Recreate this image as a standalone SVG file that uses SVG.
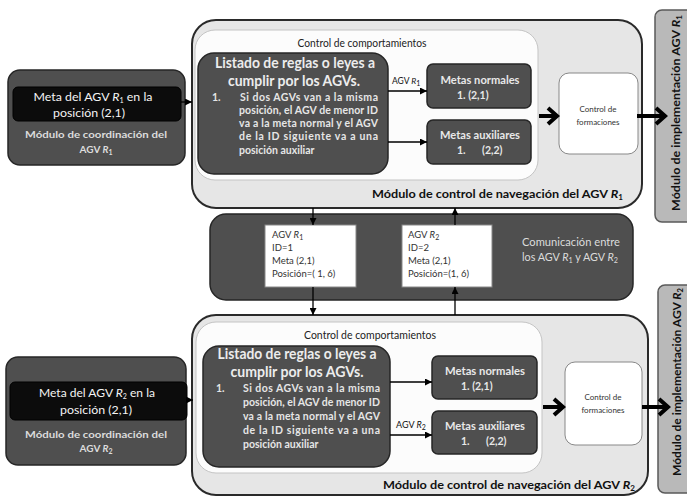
<svg xmlns="http://www.w3.org/2000/svg" width="687" height="498" viewBox="0 0 687 498">
<defs>
<style>
text{font-family:Lato,"Open Sans","Liberation Sans",sans-serif}
.outer{fill:#e6e6e6;stroke:#2a2a2a;stroke-width:2}
.inner{fill:#fcfcfc;stroke:#c4c4c4;stroke-width:1}
.dark{fill:#4f4f4f;stroke:#262626;stroke-width:1.5}
.blk{fill:#0c0c0c;stroke:#000;stroke-width:1}
.panel{fill:#b9b9b9;stroke:#5a5a5a;stroke-width:1.5}
.info{fill:#fff;stroke:#888;stroke-width:1}
.wt{fill:#f4f4f4}
.lt{fill:#dcdcdc;font-weight:bold}
.title{fill:#ececec;font-weight:bold;font-size:14.5px}
.rule{fill:#e6e6e6;font-size:10.5px;font-weight:bold}
.met{fill:#e8e8e8;font-size:10.5px;font-weight:bold}
.small{fill:#333;font-size:8px}
.info-t{fill:#333;font-size:9.5px}
.lbl{fill:#111;font-weight:bold;font-size:11px}
.thin{stroke:#000;stroke-width:1.3;fill:none}
.bold{stroke:#000;stroke-width:4;fill:none}
.it{font-style:italic}
.sb{font-size:7px;font-style:normal}
</style>
<marker id="ah" viewBox="0 0 8 8" refX="8" refY="4" markerWidth="7" markerHeight="7" markerUnits="userSpaceOnUse" orient="auto">
<path d="M0,0 L8,4 L0,8 z" fill="#000"/>
</marker>
<marker id="bh" viewBox="-2 -2 14 20" refX="9" refY="8" markerWidth="14" markerHeight="20" markerUnits="userSpaceOnUse" orient="auto">
<path d="M0,0 L9,8 L0,16" fill="none" stroke="#000" stroke-width="4" stroke-linejoin="miter"/>
</marker>
</defs>

<!-- Right implementation panels -->
<g id="impl1">
<rect class="panel" x="655" y="10" width="40" height="212" rx="7"/>
<text class="lbl" transform="translate(680,113) rotate(-90)" text-anchor="middle" textLength="196" lengthAdjust="spacingAndGlyphs">Módulo de implementación  AGV <tspan class="it">R</tspan><tspan class="sb" baseline-shift="-2">1</tspan></text>
</g>
<g id="impl2">
<rect class="panel" x="658" y="285" width="40" height="208" rx="7"/>
<text class="lbl" transform="translate(681,382) rotate(-90)" text-anchor="middle" textLength="188" lengthAdjust="spacingAndGlyphs">Módulo de implementación  AGV <tspan class="it">R</tspan><tspan class="sb" baseline-shift="-2">2</tspan></text>
</g>

<!-- Top navigation module -->
<g id="nav1">
<rect class="outer" x="192" y="20" width="450" height="188" rx="24"/>
<rect class="inner" x="195" y="30" width="343" height="150" rx="20"/>
<text x="362" y="47" text-anchor="middle" font-size="11.5" fill="#222" textLength="129" lengthAdjust="spacingAndGlyphs">Control de comportamientos</text>
<text class="lbl" x="372" y="198" textLength="251" lengthAdjust="spacingAndGlyphs">Módulo de control de navegación del AGV <tspan class="it">R</tspan><tspan class="sb" baseline-shift="-2">1</tspan></text>
</g>
<g id="rules1">
<rect class="dark" x="198" y="53" width="190" height="121" rx="16"/>
<text class="title" x="295" y="68" text-anchor="middle" textLength="160" lengthAdjust="spacingAndGlyphs">Listado de reglas o leyes a</text>
<text class="title" x="294" y="86" text-anchor="middle" textLength="132" lengthAdjust="spacingAndGlyphs">cumplir por los AGVs.</text>
<text class="rule" x="212" y="101">1.</text>
<text class="rule" x="240" y="101" textLength="138" lengthAdjust="spacing">Si dos AGVs van a la misma</text>
<text class="rule" x="239" y="114" textLength="139" lengthAdjust="spacing">posición, el AGV de menor ID</text>
<text class="rule" x="239" y="127" textLength="139" lengthAdjust="spacing">va a la meta normal y el AGV</text>
<text class="rule" x="239" y="140" textLength="139" lengthAdjust="spacing">de la ID siguiente va a una</text>
<text class="rule" x="239" y="154">posición auxiliar</text>
</g>
<g id="metasN1">
<rect class="dark" x="427" y="64" width="104" height="44" rx="6"/>
<text class="met" x="480" y="84" text-anchor="middle" textLength="79" lengthAdjust="spacingAndGlyphs">Metas normales</text>
<text class="met" x="457" y="99">1.   (2,1)</text>
</g>
<g id="metasA1">
<rect class="dark" x="427" y="120" width="104" height="44" rx="6"/>
<text class="met" x="480" y="139" text-anchor="middle" textLength="80" lengthAdjust="spacingAndGlyphs">Metas auxiliares</text>
<text class="met" x="457" y="154">1.</text>
<text class="met" x="482" y="154">(2,2)</text>
</g>
<g id="form1">
<rect class="info" x="559" y="73" width="79" height="81" rx="10" stroke="#ccc"/>
<text class="small" x="598" y="112" text-anchor="middle">Control de</text>
<text class="small" x="598" y="125" text-anchor="middle">formaciones</text>
</g>
<g id="coord1">
<rect class="dark" x="8" y="70" width="177" height="95" rx="12"/>
<rect class="blk" x="13" y="87" width="168" height="34" rx="5"/>
<text class="wt" x="93" y="101" text-anchor="middle" font-size="12" textLength="119" lengthAdjust="spacingAndGlyphs">Meta del AGV <tspan class="it">R</tspan><tspan class="sb" baseline-shift="-1.5">1</tspan> en la</text>
<text class="wt" x="89" y="117" text-anchor="middle" font-size="12" textLength="72" lengthAdjust="spacingAndGlyphs">posición (2,1)</text>
<text class="lt" x="96" y="138" text-anchor="middle" font-size="10" textLength="142" lengthAdjust="spacingAndGlyphs">Módulo de coordinación del</text>
<text class="lt" x="96" y="153" text-anchor="middle" font-size="10">AGV <tspan class="it">R</tspan><tspan class="sb" baseline-shift="-2">1</tspan></text>
</g>

<!-- Communication -->
<g id="comm">
<rect class="dark" x="210" y="214" width="423" height="86" rx="16"/>
<text x="571" y="246" text-anchor="middle" font-size="10.5" fill="#dcdcdc" textLength="98" lengthAdjust="spacingAndGlyphs">Comunicación entre</text>
<text x="570" y="261" text-anchor="middle" font-size="10.5" fill="#dcdcdc" textLength="96" lengthAdjust="spacingAndGlyphs">los  AGV <tspan class="it">R</tspan><tspan class="sb" baseline-shift="-2">1</tspan> y AGV <tspan class="it">R</tspan><tspan class="sb" baseline-shift="-2">2</tspan></text>
</g>
<g id="info1">
<rect class="info" x="265" y="225" width="91" height="62"/>
<text class="info-t" x="272" y="238">AGV <tspan class="it">R</tspan><tspan class="sb" baseline-shift="-2">1</tspan></text>
<text class="info-t" x="272" y="251">ID=1</text>
<text class="info-t" x="272" y="264">Meta  (2,1)</text>
<text class="info-t" x="272" y="277">Posición=( 1, 6)</text>
</g>
<g id="info2">
<rect class="info" x="402" y="225" width="90" height="62"/>
<text class="info-t" x="408" y="238">AGV <tspan class="it">R</tspan><tspan class="sb" baseline-shift="-2">2</tspan></text>
<text class="info-t" x="408" y="251">ID=2</text>
<text class="info-t" x="408" y="264">Meta  (2,1)</text>
<text class="info-t" x="408" y="277">Posición=(1, 6)</text>
</g>

<!-- Bottom navigation module -->
<g id="nav2">
<rect class="outer" x="192" y="315" width="456" height="180" rx="24"/>
<rect class="inner" x="196" y="322" width="346" height="151" rx="20"/>
<text x="370" y="339" text-anchor="middle" font-size="11.5" fill="#222" textLength="132" lengthAdjust="spacingAndGlyphs">Control de comportamientos</text>
<text class="lbl" x="383" y="489" textLength="252" lengthAdjust="spacingAndGlyphs">Módulo de control de navegación del AGV <tspan class="it">R</tspan><tspan class="sb" baseline-shift="-2">2</tspan></text>
</g>
<g id="rules2">
<rect class="dark" x="203" y="346" width="187" height="121" rx="16"/>
<text class="title" x="297" y="359" text-anchor="middle" textLength="159" lengthAdjust="spacingAndGlyphs">Listado de reglas o leyes a</text>
<text class="title" x="297" y="377" text-anchor="middle" textLength="133" lengthAdjust="spacingAndGlyphs">cumplir por los AGVs.</text>
<text class="rule" x="216" y="392">1.</text>
<text class="rule" x="243" y="392" textLength="137" lengthAdjust="spacing">Si dos AGVs van a la misma</text>
<text class="rule" x="243" y="406" textLength="137" lengthAdjust="spacing">posición, el AGV de menor ID</text>
<text class="rule" x="243" y="420" textLength="137" lengthAdjust="spacing">va a la meta normal y el AGV</text>
<text class="rule" x="243" y="434" textLength="137" lengthAdjust="spacing">de la ID siguiente va a una</text>
<text class="rule" x="243" y="448">posición auxiliar</text>
</g>
<g id="metasN2">
<rect class="dark" x="432" y="356" width="105" height="43" rx="6"/>
<text class="met" x="485" y="375" text-anchor="middle" textLength="80" lengthAdjust="spacingAndGlyphs">Metas normales</text>
<text class="met" x="461" y="390">1.   (2,1)</text>
</g>
<g id="metasA2">
<rect class="dark" x="432" y="411" width="105" height="43" rx="6"/>
<text class="met" x="485" y="430" text-anchor="middle" textLength="80" lengthAdjust="spacingAndGlyphs">Metas auxiliares</text>
<text class="met" x="461" y="445">1.</text>
<text class="met" x="486" y="445">(2,2)</text>
</g>
<g id="form2">
<rect class="info" x="565" y="362" width="77" height="83" rx="10" stroke="#ccc"/>
<text class="small" x="603" y="400" text-anchor="middle">Control de</text>
<text class="small" x="603" y="413" text-anchor="middle">formaciones</text>
</g>
<g id="coord2">
<rect class="dark" x="6" y="357" width="180" height="108" rx="12"/>
<rect class="blk" x="10" y="382" width="177" height="38" rx="5"/>
<text class="wt" x="97" y="397" text-anchor="middle" font-size="12" textLength="116" lengthAdjust="spacingAndGlyphs">Meta del AGV <tspan class="it">R</tspan><tspan class="sb" baseline-shift="-1.5">2</tspan> en la</text>
<text class="wt" x="96" y="414" text-anchor="middle" font-size="12" textLength="72" lengthAdjust="spacingAndGlyphs">posición (2,1)</text>
<text class="lt" x="96" y="438" text-anchor="middle" font-size="10" textLength="142" lengthAdjust="spacingAndGlyphs">Módulo de coordinación del</text>
<text class="lt" x="96" y="452" text-anchor="middle" font-size="10">AGV <tspan class="it">R</tspan><tspan class="sb" baseline-shift="-2">2</tspan></text>
</g>

<!-- Connectors -->
<g id="connectors">
<line class="thin" x1="181" y1="102" x2="192" y2="102" marker-end="url(#ah)"/>
<line class="thin" x1="187" y1="400" x2="193" y2="400" marker-end="url(#ah)"/>
<line class="thin" x1="388" y1="91" x2="427" y2="91" marker-end="url(#ah)"/>
<line class="thin" x1="388" y1="142" x2="427" y2="142" marker-end="url(#ah)"/>
<line class="thin" x1="390" y1="382" x2="432" y2="382" marker-end="url(#ah)"/>
<line class="thin" x1="390" y1="435" x2="432" y2="435" marker-end="url(#ah)"/>
<line class="bold" x1="539" y1="116" x2="557" y2="116" marker-end="url(#bh)"/>
<line class="bold" x1="637" y1="116" x2="665" y2="116" marker-end="url(#bh)"/>
<line class="bold" x1="543" y1="407" x2="563" y2="407" marker-end="url(#bh)"/>
<line class="bold" x1="642" y1="407" x2="668" y2="407" marker-end="url(#bh)"/>
<line class="thin" x1="313" y1="208" x2="313" y2="225" marker-end="url(#ah)"/>
<line class="thin" x1="313" y1="287" x2="313" y2="315" marker-end="url(#ah)"/>
<line class="thin" x1="455" y1="225" x2="455" y2="208" marker-end="url(#ah)"/>
<line class="thin" x1="455" y1="315" x2="455" y2="287" marker-end="url(#ah)"/>
<text x="392" y="84" font-size="8.5" fill="#111">AGV <tspan class="it">R</tspan><tspan class="sb" font-size="6" baseline-shift="-2">1</tspan></text>
<text x="396" y="428" font-size="9" fill="#111">AGV <tspan class="it">R</tspan><tspan class="sb" font-size="6" baseline-shift="-2">2</tspan></text>
</g>
</svg>
